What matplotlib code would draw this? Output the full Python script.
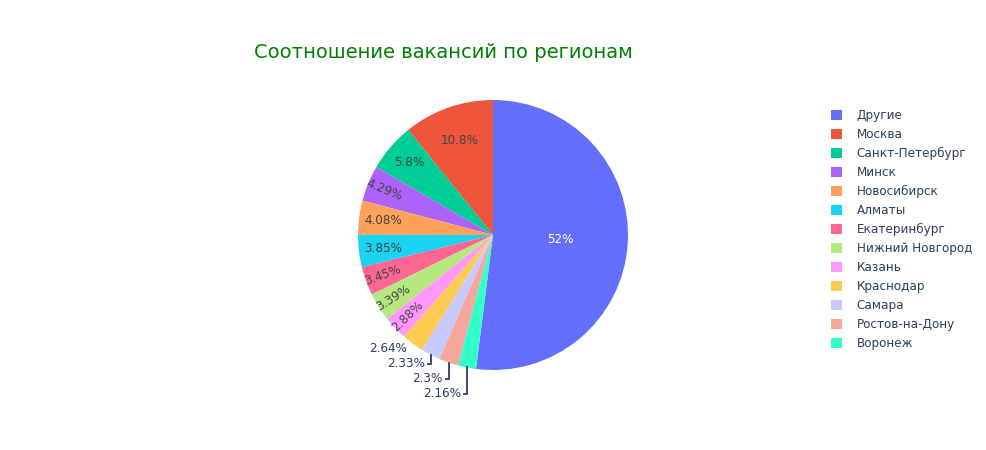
import numpy as np
import matplotlib
matplotlib.use('Agg')
import matplotlib.pyplot as plt

# Данные
regions = ['Другие', 'Москва', 'Санкт-Петербург', 'Минск', 'Новосибирск', 'Алматы',
           'Екатеринбург', 'Нижний Новгород', 'Казань', 'Краснодар', 'Самара',
           'Ростов-на-Дону', 'Воронеж']
shares = [52.0, 10.8, 5.8, 4.29, 4.08, 3.85, 3.45, 3.39, 2.88, 2.64, 2.33, 2.3, 2.16]
pct_labels = ['52%', '10.8%', '5.8%', '4.29%', '4.08%', '3.85%', '3.45%', '3.39%',
              '2.88%', '2.64%', '2.33%', '2.3%', '2.16%']

colors = ['#636efa', '#EF553B', '#00cc96', '#ab63fa', '#FFA15A', '#19d3f3', '#FF6692',
          '#B6E880', '#FF97FF', '#FECB52', '#c6cafd', '#f7a799', '#33ffc8']

plt.rcParams['font.family'] = ['DejaVu Sans']
PX = 0.72  # 1px в пунктах при dpi=100

fig = plt.figure(figsize=(9.86, 4.5), dpi=100)
W, H = 986, 450
cx, cy, R = 493, 235, 135
ax = fig.add_axes([(cx - R) / W, (H - cy - R) / H, 2 * R / W, 2 * R / H])

total = sum(shares)
start = 90 - 360 * shares[0] / total
wedges, _ = ax.pie(shares, colors=colors, startangle=start, counterclock=True,
                   radius=1, wedgeprops=dict(linewidth=0))
ax.set_xlim(-1, 1)
ax.set_ylim(-1, 1)
ax.set_aspect('equal')
ax.axis('off')

# Подписи внутри и снаружи
outside = [9, 10, 11, 12]
radial = [3, 6, 7, 8]
prev_y = None
for i, w in enumerate(wedges):
    mid = np.deg2rad((w.theta1 + w.theta2) / 2)
    ux, uy = np.cos(mid), np.sin(mid)
    if i in outside:
        ex, ey = ux, uy
        ty = ey - 5 / R
        if prev_y is not None:
            ty = min(ty, prev_y - 15 / R)
        tx = ex - 6 / R
        if prev_y is not None:
            ax.plot([ex, ex, ex - 3 / R], [ey, ty, ty], color='#2a3f5f', lw=1.3,
                    clip_on=False, solid_joinstyle='miter')
        ax.text(tx, ty, pct_labels[i], ha='right', va='center', color='#2a3f5f',
                fontsize=12 * PX, clip_on=False)
        prev_y = ty
        continue
    if i == 0:
        r, col = 0.5, 'white'
    elif i == 1:
        r, col = 0.74, '#444444'
    elif i in radial:
        r, col = 0.87, '#444444'
    else:
        r, col = 0.82, '#444444'
    rot = 0
    if i in radial:
        rot = np.rad2deg(mid) - 180
    ax.text(r * ux, r * uy, pct_labels[i], ha='center', va='center', color=col,
            fontsize=12 * PX, rotation=rot, rotation_mode='anchor')

fig.text(443 / W, 1 - 52 / H, 'Соотношение вакансий по регионам', color='#008000',
         fontsize=19.5 * PX, ha='center', va='center')

leg = fig.legend(wedges, regions, loc='upper left', bbox_to_anchor=(831 / W, 1 - 109 / H),
                 frameon=False, fontsize=12 * PX, handlelength=0.95, handleheight=0.95,
                 handletextpad=1.2, labelspacing=0.5, borderpad=0, borderaxespad=0)
for t in leg.get_texts():
    t.set_color('#2a3f5f')

fig.savefig('out.png', dpi=100)
